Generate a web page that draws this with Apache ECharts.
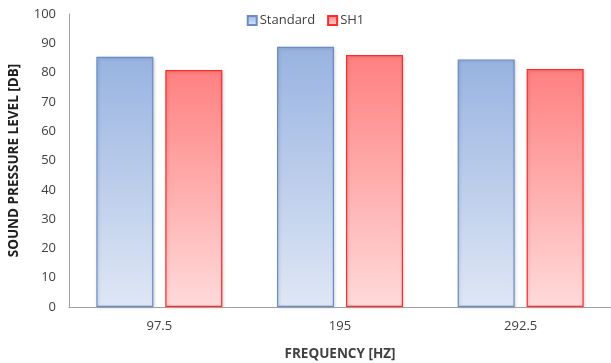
<!DOCTYPE html>
<html>
<head>
<meta charset="utf-8">
<script src="https://cdn.jsdelivr.net/npm/echarts@6/dist/echarts.min.js"></script>
<style>
  html, body { margin: 0; padding: 0; background: #ffffff; }
  #chart { width: 611px; height: 363px; }
</style>
</head>
<body>
<div id="chart"></div>
<script>
// Frequencies (Hz) on the category axis
const frequencies = ['97.5', '195', '292.5'];
// Sound pressure level (dB) per configuration
const standardLevels = [85.4, 88.8, 84.5];
const sh1Levels = [80.9, 86.0, 81.2];
// Value axis ticks
const yMin = 0, yMax = 100, yStep = 10;

const FONT = '"Open Sans", "Noto Sans", sans-serif';

function vGrad(top, bottom) {
  return {
    type: 'linear', x: 0, y: 0, x2: 0, y2: 1,
    colorStops: [{ offset: 0, color: top }, { offset: 1, color: bottom }]
  };
}

const chart = echarts.init(document.getElementById('chart'), null, { renderer: 'canvas' });

chart.setOption({
  animation: false,
  backgroundColor: '#ffffff',
  textStyle: { fontFamily: FONT },
  grid: { left: 69, right: 0, top: 14, bottom: 56, containLabel: false, outerBoundsMode: 'none' },
  legend: {
    top: 9,
    left: 'center',
    itemWidth: 9,
    itemHeight: 9,
    itemGap: 12,
    icon: 'rect',
    textStyle: { fontFamily: FONT, fontSize: 13, color: '#404040', padding: [0, 0, 0, -2] },
    data: ['Standard', 'SH1']
  },
  xAxis: {
    type: 'category',
    z: 5,
    data: frequencies,
    name: 'FREQUENCY [HZ]',
    nameLocation: 'middle',
    nameGap: 40,
    nameTextStyle: { fontFamily: FONT, fontSize: 13.5, fontWeight: 'bold', color: '#404040' },
    axisLine: { show: true, lineStyle: { color: '#a0a0a0', width: 1 } },
    axisTick: { show: false },
    axisLabel: { fontFamily: FONT, fontSize: 13, color: '#404040', margin: 13 }
  },
  yAxis: {
    type: 'value',
    min: yMin,
    max: yMax,
    interval: yStep,
    name: 'SOUND PRESSURE LEVEL [DB]',
    nameLocation: 'middle',
    nameGap: 48,
    nameRotate: 90,
    nameTextStyle: { fontFamily: FONT, fontSize: 13.5, fontWeight: 'bold', color: '#202020' },
    axisLine: { show: true, lineStyle: { color: '#a0a0a0', width: 1 } },
    axisTick: { show: false },
    splitLine: { show: false },
    axisLabel: { fontFamily: FONT, fontSize: 13, color: '#404040', margin: 13 }
  },
  series: [
    {
      name: 'Standard',
      type: 'bar',
      data: standardLevels,
      barWidth: 57,
      barGap: '21%',
      itemStyle: {
        color: vGrad('#98b3e1', '#dfe7f5'),
        borderColor: '#6a8cc6',
        borderWidth: 1.2,
        shadowBlur: 3,
        shadowColor: 'rgba(0,0,0,0.18)',
        shadowOffsetX: 1,
        shadowOffsetY: 1
      }
    },
    {
      name: 'SH1',
      type: 'bar',
      data: sh1Levels,
      barWidth: 57,
      itemStyle: {
        color: vGrad('#ff8080', '#ffdada'),
        borderColor: '#ff2a2a',
        borderWidth: 1.2,
        shadowBlur: 3,
        shadowColor: 'rgba(0,0,0,0.18)',
        shadowOffsetX: 1,
        shadowOffsetY: 1
      }
    }
  ]
});
</script>
</body>
</html>
